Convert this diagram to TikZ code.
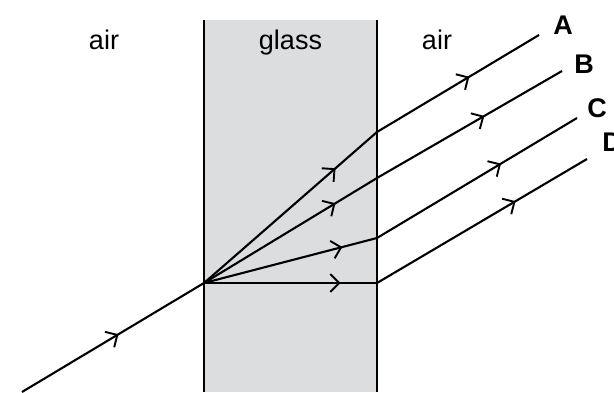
\documentclass[tikz,border=0pt]{standalone}
\usepackage{fontspec}
\setmainfont{Liberation Sans}
\usetikzlibrary{arrows.meta,decorations.markings}
\definecolor{glassgray}{RGB}{220,221,223}
\tikzset{
  ray/.style = {line width=2.1pt},
  ray arrow/.style = {postaction={decorate, decoration={markings,
      mark=at position #1 with {\arrow[line width=1.9pt]{Straight Barb[length=9pt,width=18pt]}}}}},
  medium/.style = {font=\fontsize{27}{30}\selectfont, inner sep=0, anchor=base},
  ray label/.style = {font=\fontsize{27}{30}\selectfont\bfseries, inner sep=0, anchor=base},
}

\begin{document}
\begin{tikzpicture}[x=1pt, y=-1pt]
  \useasboundingbox (0,0) rectangle (614,392);

  % glass block
  \coordinate (GTL) at (204,20);
  \coordinate (GBL) at (204,392);
  \coordinate (GTR) at (377,20);
  \coordinate (GBR) at (377,392);
  \fill[glassgray] (GTL) rectangle (GBR);
  \draw[line width=2.1pt] (GTL) -- (GBL);
  \draw[line width=2.1pt] (GTR) -- (GBR);

  \node[medium] (airL) at (104,49) {air};
  \node[medium] (glass) at (290.5,49) {glass};
  \node[medium] (airR) at (437,49) {air};

  % points on the rays
  \coordinate (S) at (22,392);
  \coordinate (O) at (204,283);
  \coordinate (XA) at (377,132);
  \coordinate (XB) at (377,178);
  \coordinate (XC) at (377,238);
  \coordinate (XD) at (377,283);
  \coordinate (EA) at (539,35);
  \coordinate (EB) at (562,71);
  \coordinate (EC) at (577,118);
  \coordinate (ED) at (587,159);

  \node[ray label] (A) at (563,34) {A};
  \node[ray label] (B) at (584,73) {B};
  \node[ray label] (C) at (597,117.5) {C};
  \node[ray label] (D) at (612,151) {D};

  % incident ray
  \draw[ray, ray arrow=0.53] (S) -- (O);

  % inside the glass
  \draw[ray, ray arrow=0.76] (O) -- (XA);
  \draw[ray, ray arrow=0.76] (O) -- (XB);
  \draw[ray, ray arrow=0.80] (O) -- (XC);
  \draw[ray, ray arrow=0.79] (O) -- (XD);

  % leaving the glass
  \draw[ray, ray arrow=0.57] (XA) -- (EA);
  \draw[ray, ray arrow=0.58] (XB) -- (EB);
  \draw[ray, ray arrow=0.62] (XC) -- (EC);
  \draw[ray, ray arrow=0.66] (XD) -- (ED);
\end{tikzpicture}
\end{document}
